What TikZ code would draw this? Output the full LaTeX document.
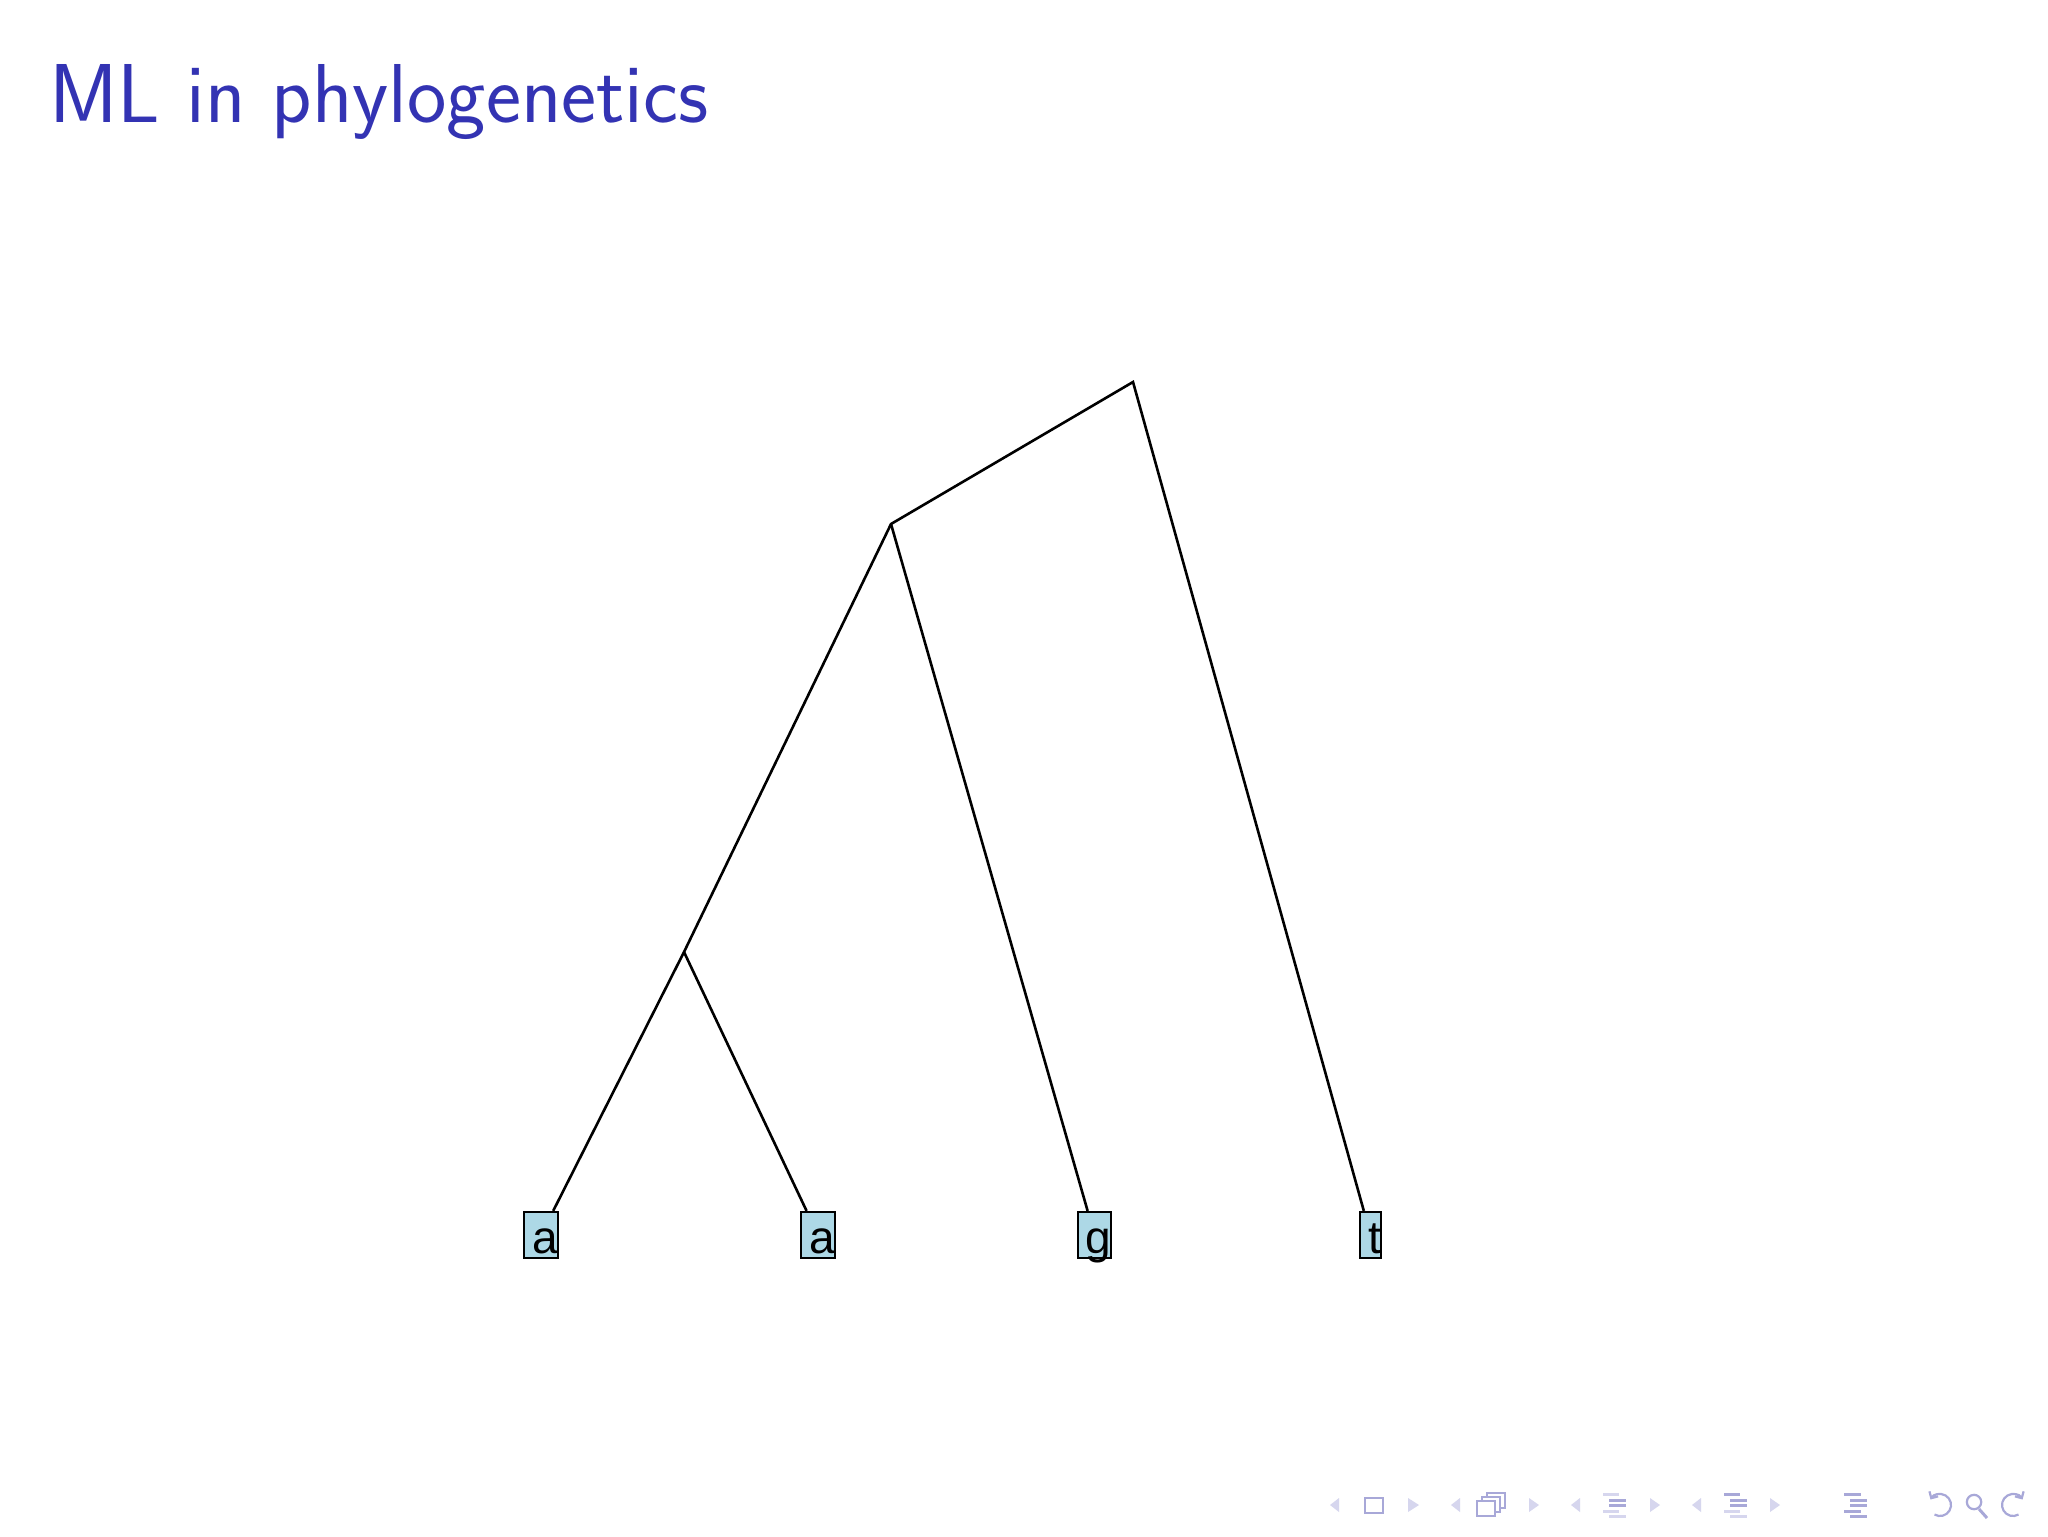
\documentclass[tikz,border=0pt]{standalone}
\usepackage{fontspec}
\usetikzlibrary{arrows.meta}
\newfontfamily\leaffont{Liberation Sans}
\definecolor{titleblue}{RGB}{51,51,179}
\definecolor{leafblue}{RGB}{173,216,230}
\definecolor{navdark}{RGB}{168,168,216}
\definecolor{navlight}{RGB}{214,214,238}
\begin{document}
\begin{tikzpicture}[x=0.5pt,y=-0.5pt,
  branch/.style={line width=1.3pt, draw=black},
  leaf/.style={draw=black, line width=1.1pt, fill=leafblue, inner xsep=0pt, inner ysep=0pt,
    text height=20.5pt, text depth=2.5pt, font=\leaffont\fontsize{23}{23}\selectfont},
  navtri/.style={fill=navlight, draw=none},
  navbox/.style={draw=navdark, line width=1.1pt},
  navbar/.style={line width=1.5pt},
]
\useasboundingbox (0,0) rectangle (2048,1536);
\fill[white] (0,0) rectangle (2048,1536);
\node[anchor=base west, inner sep=0pt, text=titleblue,
  font=\sffamily\fontsize{41.8}{48}\selectfont] (title) at (49,122) {ML in phylogenetics};

\coordinate (root) at (1133,382);
\coordinate (n2) at (891,524);
\coordinate (n3) at (684,952);
\node[leaf] (l1) at (541,1235) {\hspace*{4pt}a};
\node[leaf] (l2) at (818,1235) {\hspace*{4pt}a};
\node[leaf] (l3) at (1094.5,1235) {\hspace*{4pt}g};
\node[leaf] (l4) at (1370.5,1235) {\hspace*{4pt}t};

\draw[branch] (l1) -- (n3) -- (n2) -- (root) -- (l4);
\draw[branch] (n3) -- (l2);
\draw[branch] (n2) -- (l3);

% navigation symbols
\fill[navtri] (1339,1498) -- (1330,1505) -- (1339,1512) -- cycle;
\draw[navbox] (1365,1498) rectangle (1383,1513);
\fill[navtri] (1408,1498) -- (1419,1505) -- (1408,1512) -- cycle;

\fill[navtri] (1460,1498) -- (1451,1505) -- (1460,1512) -- cycle;
\draw[navbox, fill=white] (1487,1493) rectangle (1505,1508);
\draw[navbox, fill=white] (1482,1497) rectangle (1500,1512);
\draw[navbox, fill=white] (1477,1501) rectangle (1495,1516);
\fill[navtri] (1529,1498) -- (1539,1505) -- (1529,1512) -- cycle;

\fill[navtri] (1580,1498) -- (1571,1505) -- (1580,1512) -- cycle;
\draw[navbar, navlight] (1603,1494) -- (1619,1494);
\draw[navbar, navdark] (1609,1500) -- (1626,1500);
\draw[navbar, navdark] (1609,1505) -- (1626,1505);
\draw[navbar, navlight] (1603,1511) -- (1619,1511);
\draw[navbar, navlight] (1609,1516) -- (1626,1516);
\fill[navtri] (1650,1498) -- (1660,1505) -- (1650,1512) -- cycle;

\fill[navtri] (1701,1498) -- (1692,1505) -- (1701,1512) -- cycle;
\draw[navbar, navdark] (1724,1494) -- (1740,1494);
\draw[navbar, navdark] (1730,1500) -- (1747,1500);
\draw[navbar, navdark] (1730,1505) -- (1747,1505);
\draw[navbar, navlight] (1724,1511) -- (1740,1511);
\draw[navbar, navlight] (1730,1516) -- (1747,1516);
\fill[navtri] (1770,1498) -- (1780,1505) -- (1770,1512) -- cycle;

\draw[navbar, navdark] (1844,1494) -- (1861,1494);
\draw[navbar, navdark] (1850,1500) -- (1867,1500);
\draw[navbar, navdark] (1850,1505) -- (1867,1505);
\draw[navbar, navdark] (1844,1511) -- (1861,1511);
\draw[navbar, navdark] (1850,1516) -- (1867,1516);

\draw[navbox, -{Straight Barb[length=2.5pt,width=5pt]}]
  ([shift={(240:5.5pt)}]1940,1505) arc[start angle=240, end angle=510, radius=5.5pt];
\draw[navbox] (1974,1502) circle[radius=3.6pt];
\draw[navbox, line width=1.5pt] (1979,1509) -- (1987,1518);
\draw[navbox, -{Straight Barb[length=2.5pt,width=5pt]}]
  ([shift={(-60:5.5pt)}]2013,1505) arc[start angle=-60, end angle=-330, radius=5.5pt];
\end{tikzpicture}
\end{document}
